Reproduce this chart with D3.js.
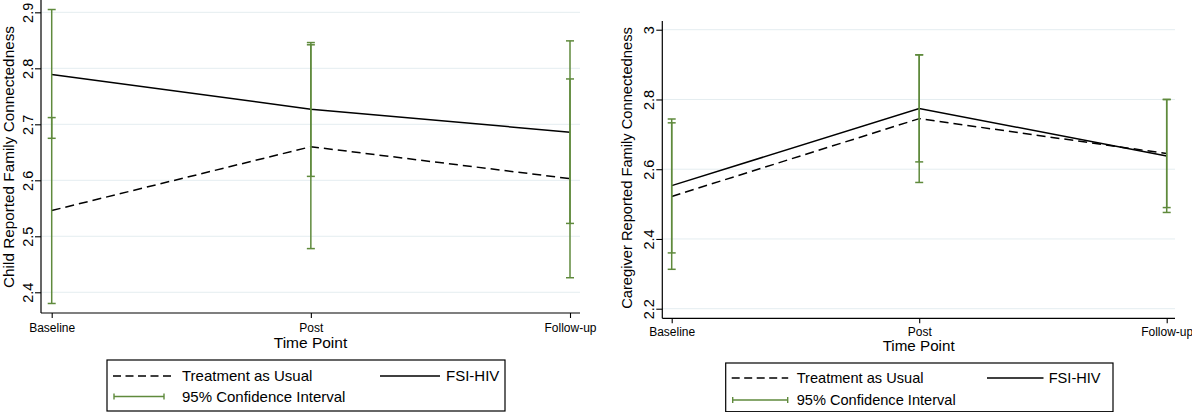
<!DOCTYPE html>
<html lang="en">
<head>
<meta charset="UTF-8" />
<title>Family Connectedness by Time Point</title>
<script src="https://d3js.org/d3.v7.min.js"></script>
<style>
    body { margin: 0; background: #fff; }
    svg { display: block; font-family: "Liberation Sans", Arial, sans-serif; }
</style>
</head>
<body>
<svg id="chart" width="1192" height="412"></svg>
<script>
    // --- data ---
    const timePoints = ["Baseline", "Post", "Follow-up"];

    // child reported
    const childTau = [2.546, 2.660, 2.603];
    const childTauLo = [2.380, 2.478, 2.426];
    const childTauHi = [2.712, 2.842, 2.781];
    const childFsi = [2.789, 2.727, 2.686];
    const childFsiLo = [2.675, 2.607, 2.523];
    const childFsiHi = [2.905, 2.846, 2.849];
    const childTicks = [2.4, 2.5, 2.6, 2.7, 2.8, 2.9];

    // caregiver reported
    const careTau = [2.522, 2.745, 2.645];
    const careTauLo = [2.313, 2.562, 2.490];
    const careTauHi = [2.733, 2.928, 2.800];
    const careFsi = [2.553, 2.774, 2.638];
    const careFsiLo = [2.360, 2.621, 2.476];
    const careFsiHi = [2.744, 2.928, 2.800];
    const careTicks = [2.2, 2.4, 2.6, 2.8, 3];

    const ciColor = "#5f8a3c";
    const gridColor = "#e4edf0";

    const svg = d3.select("#chart");

    function drawPanel(p) {
        const g = svg.append("g");

        const x = d3.scalePoint().domain(timePoints).range([p.x0, p.x1]);
        const y = d3.scaleLinear().domain(p.domain).range([p.bottom, p.top]);

        // grid
        g.selectAll("line.grid")
            .data(p.ticks)
            .join("line")
            .attr("x1", p.left).attr("x2", p.right)
            .attr("y1", d => y(d)).attr("y2", d => y(d))
            .attr("stroke", gridColor).attr("stroke-width", 1);

        // Y axis
        const ay = g.append("g")
            .attr("transform", `translate(${p.left},0)`)
            .call(d3.axisLeft(y).tickValues(p.ticks).tickSize(6).tickSizeOuter(0).tickFormat(d3.format("")));
        ay.select(".domain").attr("d", `M0,${p.top}V${p.bottom}`).attr("stroke-width", 1.2);
        ay.selectAll(".tick line").attr("stroke-width", 1.1);
        ay.selectAll(".tick text")
            .attr("x", 0).attr("dy", 0)
            .attr("transform", "translate(-8,0) rotate(-90)")
            .attr("text-anchor", "middle")
            .attr("fill", "#000")
            .style("font-size", "14.5px");

        // X axis
        const ax = g.append("g")
            .attr("transform", `translate(0,${p.bottom})`)
            .call(d3.axisBottom(x).tickSize(5).tickSizeOuter(0));
        ax.select(".domain").attr("d", `M${p.left},0H${p.right}`).attr("stroke-width", 1.2);
        ax.selectAll(".tick line").attr("stroke-width", 1.1);
        ax.selectAll(".tick text")
            .attr("y", p.xLabelDy).attr("dy", 0)
            .attr("fill", "#000")
            .style("font-size", "12px");

        // axis titles
        g.append("text")
            .attr("transform", `translate(${p.yTitleX},${p.yTitleY}) rotate(-90)`)
            .attr("text-anchor", "middle")
            .style("font-size", p.yTitleSize + "px")
            .text(p.yTitle);
        g.append("text")
            .attr("x", (p.left + p.right) / 2)
            .attr("y", p.xTitleY)
            .attr("text-anchor", "middle")
            .style("font-size", p.xTitleSize + "px")
            .text("Time Point");

        // lines
        const line = d3.line().x((d, i) => x(timePoints[i])).y(d => y(d));
        g.append("path")
            .attr("d", line(p.tau))
            .attr("fill", "none").attr("stroke", "#000")
            .attr("stroke-width", 1.5).attr("stroke-dasharray", "9,5");
        g.append("path")
            .attr("d", line(p.fsi))
            .attr("fill", "none").attr("stroke", "#000")
            .attr("stroke-width", 1.5);

        // confidence intervals
        const cis = [];
        timePoints.forEach((t, i) => {
            cis.push({ t: t, lo: p.tauLo[i], hi: p.tauHi[i] });
            cis.push({ t: t, lo: p.fsiLo[i], hi: p.fsiHi[i] });
        });
        const ci = g.selectAll("g.ci").data(cis).join("g")
            .attr("stroke", ciColor).attr("stroke-width", 1.5);
        ci.append("line")
            .attr("x1", d => x(d.t)).attr("x2", d => x(d.t))
            .attr("y1", d => y(d.lo)).attr("y2", d => y(d.hi));
        ci.append("line")
            .attr("x1", d => x(d.t) - 4).attr("x2", d => x(d.t) + 4)
            .attr("y1", d => y(d.lo)).attr("y2", d => y(d.lo));
        ci.append("line")
            .attr("x1", d => x(d.t) - 4).attr("x2", d => x(d.t) + 4)
            .attr("y1", d => y(d.hi)).attr("y2", d => y(d.hi));

        // legend
        const L = p.legend;
        const lg = g.append("g");
        lg.append("rect")
            .attr("x", L.x).attr("y", L.y)
            .attr("width", L.w).attr("height", L.h)
            .attr("fill", "#fff").attr("stroke", "#000").attr("stroke-width", 1.2);
        const r1 = L.y + L.row1, r2 = L.y + L.row2;
        lg.append("line")
            .attr("x1", L.x + 6).attr("x2", L.x + L.sample)
            .attr("y1", r1 - 5).attr("y2", r1 - 5)
            .attr("stroke", "#000").attr("stroke-width", 1.4).attr("stroke-dasharray", "8,4.5");
        lg.append("text").attr("x", L.x + L.text).attr("y", r1)
            .style("font-size", L.font + "px").text("Treatment as Usual");
        lg.append("line")
            .attr("x1", L.fsiLine).attr("x2", L.fsiLine + L.sample - 6)
            .attr("y1", r1 - 5).attr("y2", r1 - 5)
            .attr("stroke", "#000").attr("stroke-width", 1.4);
        lg.append("text").attr("x", L.fsiText).attr("y", r1)
            .style("font-size", L.font + "px").text("FSI-HIV");
        const cg = lg.append("g").attr("stroke", ciColor).attr("stroke-width", 1.4);
        cg.append("line").attr("x1", L.x + 7).attr("x2", L.x + L.ciEnd)
            .attr("y1", r2 - 5).attr("y2", r2 - 5);
        cg.append("line").attr("x1", L.x + 7).attr("x2", L.x + 7)
            .attr("y1", r2 - 8).attr("y2", r2 - 2);
        cg.append("line").attr("x1", L.x + L.ciEnd).attr("x2", L.x + L.ciEnd)
            .attr("y1", r2 - 8).attr("y2", r2 - 2);
        lg.append("text").attr("x", L.x + L.text).attr("y", r2)
            .style("font-size", L.font + "px").text("95% Confidence Interval");
    }

    drawPanel({
        left: 41, right: 580, top: 0, bottom: 313,
        x0: 51.7, x1: 570,
        domain: [2.363, 2.922],
        ticks: childTicks,
        tau: childTau, tauLo: childTauLo, tauHi: childTauHi,
        fsi: childFsi, fsiLo: childFsiLo, fsiHi: childFsiHi,
        xLabelDy: 19, xTitleY: 348, xTitleSize: 15.5,
        yTitle: "Child Reported Family Connectedness", yTitleX: 14, yTitleY: 157, yTitleSize: 15.3,
        legend: { x: 107, y: 360, w: 398, h: 51, row1: 21, row2: 41.5, font: 15,
                  sample: 66, text: 75, ciEnd: 57, fsiLine: 380, fsiText: 446 }
    });

    drawPanel({
        left: 662.3, right: 1175, top: 21, bottom: 318.3,
        x0: 671.7, x1: 1166.7,
        domain: [2.1725, 3.025],
        ticks: careTicks,
        tau: careTau, tauLo: careTauLo, tauHi: careTauHi,
        fsi: careFsi, fsiLo: careFsiLo, fsiHi: careFsiHi,
        xLabelDy: 18, xTitleY: 351, xTitleSize: 15.2,
        yTitle: "Caregiver Reported Family Connectedness", yTitleX: 632, yTitleY: 168, yTitleSize: 14.7,
        legend: { x: 725.7, y: 363, w: 387.3, h: 48.7, row1: 20, row2: 42, font: 14.6,
                  sample: 62.5, text: 71, ciEnd: 62, fsiLine: 987, fsiText: 1048.7 }
    });
</script>
</body>
</html>
